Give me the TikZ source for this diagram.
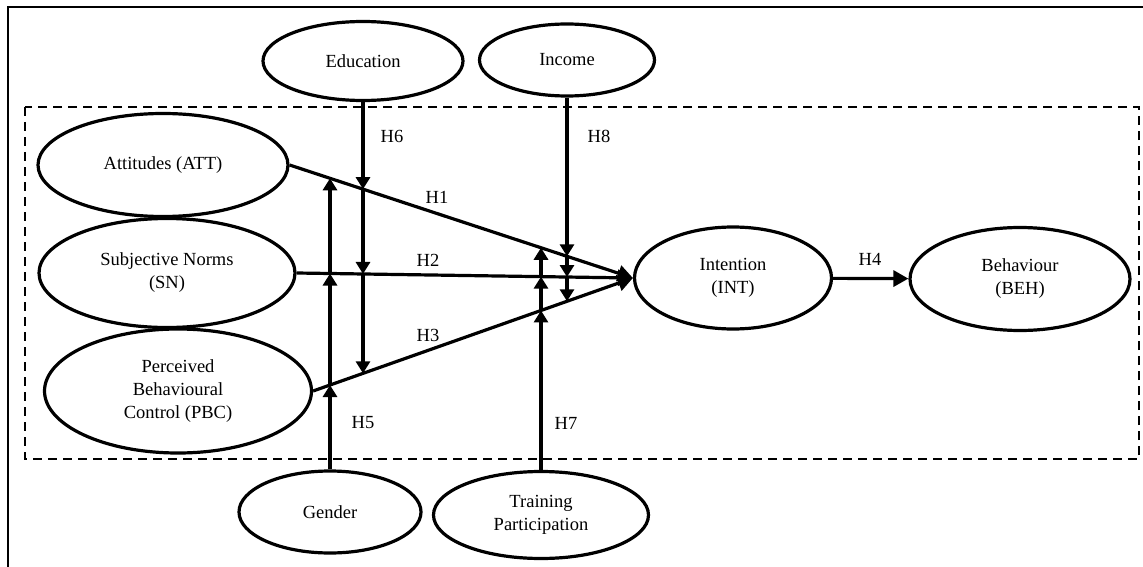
\documentclass[tikz,border=0pt]{standalone}
\usepackage{fontspec}
\setmainfont{Liberation Serif}
\usepackage{tikz}
\usetikzlibrary{arrows.meta,shapes.geometric,intersections}
\tikzset{
  construct/.style={
    ellipse, draw=black, line width=3.2pt, inner sep=0pt,
    align=center, font=\fontsize{18.5}{23}\selectfont
  },
  patharrow/.style={-{Triangle[length=15pt,width=16pt]}, line width=3.2pt}
}

\begin{document}
\begin{tikzpicture}[
  x=1pt, y=-1pt,
  hyp/.style={font=\fontsize{18.5}{22}\selectfont, inner sep=0pt},
  modarrow/.style={-{Triangle[length=12pt,width=14pt]}, line width=3.2pt},
  frame/.style={draw=black, line width=2.8pt},
  group/.style={draw=black, line width=2.8pt, dash pattern=on 9pt off 6pt}
]
\useasboundingbox (0,0) rectangle (1143,567);
\clip (0,0) rectangle (1143,567);

% Frames
\draw[frame] (8,7) rectangle (1200,620);
\draw[group] (25,107) rectangle (1139,459);

% Moderators
\node[construct, minimum width=200pt, minimum height=79pt] (edu) at (363,61) {Education};
\node[construct, minimum width=175pt, minimum height=72pt] (inc) at (567,60) {Income};
\node[construct, minimum width=182pt, minimum height=82pt] (gen) at (330,512) {Gender};
\node[construct, minimum width=215pt, minimum height=87pt] (trn) at (541,515) {Training\\Participation};

% TPB constructs
\node[construct, minimum width=250pt, minimum height=103pt] (att) at (163,165) {Attitudes (ATT)};
\node[construct, minimum width=256pt, minimum height=109pt] (sn) at (167,273) {Subjective Norms\\(SN)};
\node[construct, minimum width=267pt, minimum height=124pt] (pbc) at (178,391) {Perceived\\Behavioural\\Control (PBC)};
\node[construct, minimum width=197pt, minimum height=102pt] (int) at (733,278) {Intention\\(INT)};
\node[construct, minimum width=220pt, minimum height=103pt] (beh) at (1020,279) {Behaviour\\(BEH)};

% Direct paths
\draw[patharrow, name path=pATT] (att.east) -- (int.west);
\draw[patharrow, name path=pSN] (sn.east) -- (int.west);
\draw[patharrow, name path=pPBC] (pbc.east) -- (int.west);
\draw[patharrow] (int) -- (beh);

% Moderating paths
\path[name path=vEdu] (edu.south) -- ++(0,350);
\path[name path=vInc] (inc.south) -- ++(0,350);
\path[name path=vGen] (gen.north) -- ++(0,-350);
\path[name path=vTrn] (trn.north) -- ++(0,-350);

\path[name intersections={of=vEdu and pATT, by=eduA}];
\path[name intersections={of=vEdu and pSN, by=eduB}];
\path[name intersections={of=vEdu and pPBC, by=eduC}];
\path[name intersections={of=vInc and pATT, by=incA}];
\path[name intersections={of=vInc and pSN, by=incB}];
\path[name intersections={of=vInc and pPBC, by=incC}];
\path[name intersections={of=vGen and pATT, by=genA}];
\path[name intersections={of=vGen and pSN, by=genB}];
\path[name intersections={of=vGen and pPBC, by=genC}];
\path[name intersections={of=vTrn and pATT, by=trnA}];
\path[name intersections={of=vTrn and pSN, by=trnB}];
\path[name intersections={of=vTrn and pPBC, by=trnC}];

\draw[modarrow] (edu) -- (eduA);
\draw[modarrow] (eduA) -- (eduB);
\draw[modarrow] (eduB) -- (eduC);
\draw[modarrow] (inc) -- (incA);
\draw[modarrow] (incA) -- (incB);
\draw[modarrow] (incB) -- (incC);
\draw[modarrow] (gen) -- (genC);
\draw[modarrow] (genC) -- (genB);
\draw[modarrow] (genB) -- (genA);
\draw[modarrow] (trn) -- (trnC);
\draw[modarrow] (trnC) -- (trnB);
\draw[modarrow] (trnB) -- (trnA);

% Hypothesis labels
\node[hyp] (h1) at (437,197) {H1};
\node[hyp] (h2) at (428,260) {H2};
\node[hyp] (h3) at (428,335) {H3};
\node[hyp] (h4) at (870,259) {H4};
\node[hyp] (h5) at (363,423) {H5};
\node[hyp] (h6) at (392,136) {H6};
\node[hyp] (h7) at (566,423) {H7};
\node[hyp] (h8) at (599,136) {H8};
\end{tikzpicture}
\end{document}
